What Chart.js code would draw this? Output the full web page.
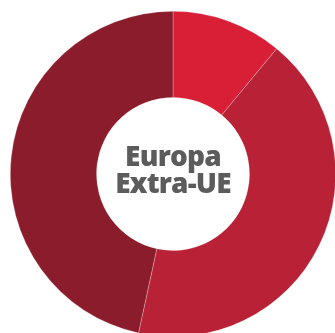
<!DOCTYPE html>
<html>
<head>
<meta charset="utf-8">
<script src="https://cdn.jsdelivr.net/npm/chart.js@4"></script>
<style>
  html, body { margin: 0; padding: 0; background: #fff; overflow: hidden; }
  #wrap { position: relative; width: 335px; height: 333px; overflow: hidden; }
  #chart { position: absolute; left: 10px; top: 11px; }
  #label {
    position: absolute; left: 73px; top: 142px; width: 200px;
    text-align: center; font-family: "Open Sans", sans-serif; font-weight: 800;
    font-size: 28px; line-height: 27px; color: #5c5c5c; letter-spacing: -0.8px;
  }
</style>
</head>
<body>
<div id="wrap">
  <canvas id="chart" width="326" height="326"></canvas>
  <div id="label">Europa<br>Extra-UE</div>
</div>
<script>
    // slice values in percent, read clockwise from the top
    const categories = ['A', 'B', 'C'];
    const values = [11, 42.4, 46.6];
    const colors = ['#D81F36', '#B82136', '#8B1C2B'];

    const data = {
        labels: categories,
        datasets: [{
            data: values,
            backgroundColor: colors,
            borderColor: 'rgba(255,255,255,0.45)',
            borderWidth: 0.6
        }]
    };

    new Chart(document.getElementById('chart'), {
        type: 'doughnut',
        data: data,
        options: {
            responsive: false,
            animation: false,
            cutout: '47%',
            layout: { padding: 0 },
            plugins: {
                legend: { display: false },
                tooltip: { enabled: false }
            }
        }
    });
</script>
</body>
</html>
